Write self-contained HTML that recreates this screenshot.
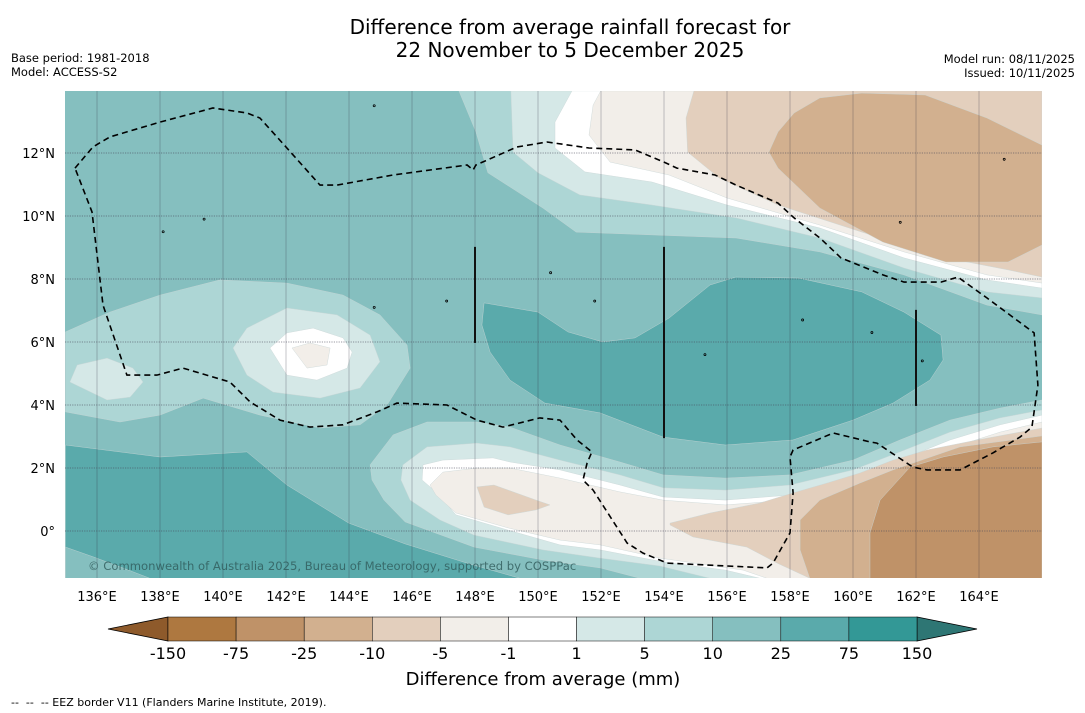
<!DOCTYPE html>
<html><head><meta charset="utf-8">
<style>
html,body{margin:0;padding:0;background:#fff;}
body{width:1085px;height:713px;overflow:hidden;font-family:"Liberation Sans","DejaVu Sans",sans-serif;}
svg{position:absolute;left:0;top:0;}
</style></head>
<body>
<svg id="chart" width="1085" height="713" viewBox="0 0 1085 713" font-family="DejaVu Sans, Liberation Sans, sans-serif">
  <text x="570" y="34" font-size="20" text-anchor="middle" fill="#000">Difference from average rainfall forecast for</text>
  <text x="570" y="57" font-size="20" text-anchor="middle" fill="#000">22 November to 5 December 2025</text>
  <text x="11" y="62" font-size="11.5" fill="#000">Base period: 1981-2018</text>
  <text x="11" y="76" font-size="11.5" fill="#000">Model: ACCESS-S2</text>
  <text x="1075" y="63" font-size="11.5" text-anchor="end" fill="#000">Model run: 08/11/2025</text>
  <text x="1075" y="77" font-size="11.5" text-anchor="end" fill="#000">Issued: 10/11/2025</text>
  <defs><clipPath id="mapclip"><rect x="65" y="91" width="977" height="487"/></clipPath></defs>
  <g id="map" clip-path="url(#mapclip)"></g>
  <g id="axes"></g>
  <g id="cbar"></g>
  <text x="543" y="685" font-size="18" text-anchor="middle" fill="#000">Difference from average (mm)</text>
  <text x="11" y="706" font-size="11" fill="#000" style="white-space:pre" xml:space="preserve">--  --  -- EEZ border V11 (Flanders Marine Institute, 2019).</text>
</svg>
<script>
// ---- data (lon/lat) ----
const lonTicks = [136,138,140,142,144,146,148,150,152,154,156,158,160,162,164];
const latTicks = [0,2,4,6,8,10,12];
const cbarLevels = ["-150","-75","-25","-10","-5","-1","1","5","10","25","75","150"];
const cbarColors = ["#ae7840","#bf9268","#d2b08f","#e3cfbd","#f2eee9","#ffffff","#d5e8e7","#add6d5","#85bfbf","#5aaaab","#339896"];
const baseLevel = "#85bfbf";

const bandSW = [[135,2.73],[138,2.35],[140.76,2.51],[142.03,1.46],[143.99,0.25],[145.78,-0.41],[147.94,-1.08],[149.43,-1.5],[135,-1.5]];
const cornerLL = [[135,-0.51],[135.9,-0.83],[137.0,-1.24],[137.68,-1.5],[135,-1.5]];
const blobCentral = [[148.29,7.24],[148.22,6.54],[148.48,5.68],[149.11,4.79],[150.22,4.06],[151.97,3.75],[153.97,2.98],[155.95,2.73],[158.09,2.89],[160.0,3.52],[161.27,4.06],[162.44,4.79],[162.86,5.43],[162.79,6.22],[161.62,6.95],[160.28,7.59],[158.28,8.03],[156.28,8.06],[155.46,7.81],[154.16,6.76],[153.08,6.13],[152.06,6.0],[150.95,6.32],[150.0,6.95]];
const westRing5 = [[135,6.32],[136.41,6.95],[138,7.49],[139.9,7.97],[142.03,7.87],[143.81,7.49],[144.98,6.86],[145.84,5.9],[145.94,5.17],[145.21,4.0],[144.35,3.37],[143.08,3.27],[141.17,3.68],[139.37,4.22],[138,3.68],[136.73,3.46],[135,3.78]];
const westRing1 = [[140.32,5.81],[140.76,6.44],[142.03,7.08],[143.62,6.86],[144.67,6.22],[144.98,5.37],[144.35,4.54],[143.08,4.22],[141.59,4.41],[140.76,4.95]];
const westSmall1 = [[135.14,4.73],[135.37,5.27],[136.32,5.49],[137.14,5.17],[137.46,4.73],[137.05,4.25],[136.32,4.16]];
const westWhite = [[141.49,5.81],[142.03,6.29],[142.86,6.44],[143.81,6.13],[144.1,5.68],[143.94,5.17],[142.98,4.79],[142.03,4.95]];
const westDry = [[142.19,5.81],[142.76,5.97],[143.4,5.81],[143.3,5.27],[142.67,5.17]];

const north5 = [[147.49,13.97],[148.03,12.67],[148.41,11.37],[150.16,10.25],[151.21,9.49],[153.62,9.4],[156.29,9.3],[158.95,8.86],[161.62,8.13],[164.25,7.17],[166,6.86],[166,13.97]];
const north1 = [[149.14,13.97],[149.21,12.03],[150.0,11.37],[151.33,10.67],[153.62,10.35],[156.29,9.94],[158.95,9.3],[161.62,8.35],[164.25,7.59],[166,7.4],[166,13.97]];
const northWhite = [[151.08,13.97],[150.54,12.98],[150.54,12.16],[151.49,11.4],[153.62,11.08],[156.0,10.35],[158.95,9.62],[161.62,8.67],[164.25,7.97],[166,7.71],[166,13.97]];
const northM1 = [[151.99,13.97],[151.75,13.52],[151.62,12.57],[152.29,11.71],[154.16,11.3],[156.0,10.57],[158.95,9.71],[161.62,8.86],[164.25,8.13],[166,7.87],[166,13.97]];
const northM5 = [[154.95,13.97],[154.7,13.11],[154.75,12.03],[155.75,11.21],[157.62,10.35],[160.28,9.49],[162.95,8.67],[164.92,8.29],[166,8.06],[166,13.97]];
const northM10 = [[158.13,13.27],[158.95,13.75],[160.28,13.9],[162.29,13.84],[164.25,13.11],[166,12.25],[166,9.08],[164.92,8.54],[162.95,8.54],[160.95,9.17],[158.95,10.25],[157.62,11.52],[157.33,12.03],[157.62,12.67]];

const south5 = [[144.73,1.62],[144.67,2.1],[145.4,3.05],[146.48,3.46],[148.06,3.46],[149.11,3.3],[150.7,2.73],[152.6,2.19],[153.97,1.78],[155.95,1.68],[158.0,1.78],[160.0,2.25],[161.49,2.89],[163.08,3.52],[164.67,3.9],[166,4.16],[166,-1.5],[153.24,-1.5],[151.97,-1.17],[150.16,-0.92],[147.97,-0.51],[145.78,0.29],[145.11,0.98]];
const south1 = [[145.65,1.62],[145.71,2.1],[146.48,2.67],[148.06,2.79],[149.11,2.67],[150.7,2.25],[152.6,1.78],[153.97,1.37],[155.95,1.3],[158.0,1.46],[160.0,1.94],[161.49,2.51],[163.08,3.14],[164.67,3.59],[166,3.84],[166,-1.5],[155.46,-1.5],[153.87,-1.11],[151.97,-0.86],[150.16,-0.6],[147.97,-0.13],[146.89,0.35],[145.94,0.98]];
const southWhite = [[146.32,1.62],[146.35,2.1],[146.98,2.25],[148.57,2.32],[149.11,2.19],[150.7,1.94],[152.6,1.46],[153.97,1.08],[155.95,0.98],[158.0,1.14],[160.0,1.62],[161.49,2.25],[163.08,2.89],[164.67,3.37],[166,3.68],[166,-1.5],[157.05,-1.5],[155.95,-1.24],[153.97,-0.98],[151.97,-0.6],[150.7,-0.44],[149.05,0.03],[147.4,0.51],[146.76,1.24]];
const southM1 = [[146.57,1.46],[146.98,1.87],[148.06,2.0],[149.11,2.0],[150.7,1.68],[152.6,1.24],[153.97,0.98],[155.95,0.83],[158.0,0.98],[160.0,1.4],[161.49,2.0],[163.08,2.63],[164.67,3.14],[166,3.46],[166,-1.5],[157.27,-1.5],[156.51,-1.24],[153.87,-0.86],[151.97,-0.44],[150.7,-0.29],[149.05,0.1],[147.4,0.57],[146.76,1.14]];
const southM5a = [[148.06,1.4],[148.6,1.46],[149.94,0.98],[150.38,0.83],[149.94,0.67],[149.05,0.51],[148.29,0.76]];
const southM5b = [[154.19,0.25],[155.46,0.57],[157.05,0.89],[158.1,1.21],[159.17,1.52],[160.22,1.84],[161.27,2.25],[162.35,2.57],[163.94,2.89],[166,3.27],[166,-1.5],[158.63,-1.5],[157.59,-1.02],[156.63,-0.51],[154.92,-0.19],[154.19,0.19]];
const southM10 = [[158.63,-1.5],[158.32,-0.6],[158.32,0.35],[158.95,0.98],[160.22,1.52],[161.27,1.94],[163.4,2.67],[166,3.02],[166,-1.5]];
const southM25 = [[160.54,-1.5],[160.54,-0.06],[160.86,0.98],[161.81,2.03],[162.86,2.35],[164.44,2.67],[166,2.83],[166,-1.5]];

const eezBorder = [[135.3,11.52],[135.87,12.19],[136.41,12.51],[138.0,12.98],[139.68,13.43],[140.76,13.27],[141.17,13.11],[142.03,12.16],[143.08,10.98],[143.62,10.98],[145.4,11.3],[147.75,11.62],[147.94,11.46],[148.03,11.62],[149.33,12.19],[150.29,12.35],[151.62,12.16],[153.08,12.1],[154.0,11.71],[154.41,11.52],[155.62,11.3],[156.29,10.98],[157.62,10.41],[158.13,9.94],[158.95,9.3],[159.62,8.67],[160.95,8.13],[161.62,7.9],[162.79,7.9],[163.33,8.06],[164.25,7.4],[165.75,6.29],[165.87,4.63],[165.68,3.3],[165.3,2.98],[164.44,2.48],[163.4,1.94],[162.35,1.94],[161.9,2.03],[160.76,2.79],[160.54,2.83],[159.37,3.11],[158.1,2.57],[158.0,2.35],[158.1,1.21],[158.0,-0.06],[157.46,-1.02],[157.27,-1.17],[154.1,-1.02],[153.33,-0.7],[152.83,-0.38],[151.75,1.3],[151.43,1.62],[151.56,2.16],[151.71,2.51],[151.24,2.89],[150.7,3.52],[150.06,3.59],[148.89,3.3],[148.06,3.52],[147.3,3.9],[147.11,4.0],[145.52,4.06],[144.89,3.78],[143.81,3.37],[142.76,3.3],[141.81,3.52],[140.86,4.1],[140.22,4.73],[138.73,5.17],[137.9,4.95],[136.95,4.95],[136.19,7.17],[135.84,10.13],[135.3,11.52]];

const barLons = [148,154,162];
const barLatTop = [9.02,9.02,7.02];
const barLatBottom = [5.97,2.95,3.97];

const islandLons = [144.8,138.1,139.4,150.4,151.8,155.3,158.4,160.6,162.2,164.8,161.5,147.1,144.8];
const islandLats = [13.5,9.5,9.9,8.2,7.3,5.6,6.7,6.3,5.4,11.8,9.8,7.3,7.1];

const fills = [
  [bandSW,"#5aaaab","band-25-75-southwest"],
  [cornerLL,"#85bfbf","corner-10-25"],
  [blobCentral,"#5aaaab","blob-25-75-central"],
  [westRing5,"#add6d5","west-5-10"],
  [westRing1,"#d5e8e7","west-1-5"],
  [westSmall1,"#d5e8e7","west-small-1-5"],
  [westWhite,"#ffffff","west-neutral"],
  [westDry,"#f2eee9","west-minus1-5"],
  [north5,"#add6d5","north-5-10"],
  [north1,"#d5e8e7","north-1-5"],
  [northWhite,"#ffffff","north-neutral"],
  [northM1,"#f2eee9","north-minus1-5"],
  [northM5,"#e3cfbd","north-minus5-10"],
  [northM10,"#d2b08f","north-minus10-25"],
  [south5,"#add6d5","south-5-10"],
  [south1,"#d5e8e7","south-1-5"],
  [southWhite,"#ffffff","south-neutral"],
  [southM1,"#f2eee9","south-minus1-5"],
  [southM5a,"#e3cfbd","south-minus5-10-small"],
  [southM5b,"#e3cfbd","south-minus5-10"],
  [southM10,"#d2b08f","south-minus10-25"],
  [southM25,"#bf9268","south-minus25-75"]
];

// ---- axis functions ----
const LON0=136, X0=97, PPD=31.5, Y0=531;
function xs(lon){return X0+(lon-LON0)*PPD;}
function ys(lat){return Y0-lat*PPD;}
const NS="http://www.w3.org/2000/svg";
function mk(tag,attrs,parent){const e=document.createElementNS(NS,tag);for(const k in attrs)e.setAttribute(k,attrs[k]);parent.appendChild(e);return e;}
function pts(arr){return arr.map(p=>xs(p[0]).toFixed(1)+","+ys(p[1]).toFixed(1)).join(" ");}

const map=document.getElementById("map");
const bg=mk("rect",{x:65,y:91,width:977,height:487,fill:baseLevel},map);


fills.forEach(f=>{
  const p=mk("polygon",{points:pts(f[0]),fill:f[1],stroke:"#c9d6d6","stroke-width":0.4},map);
  
  
});
lonTicks.forEach(l=>{
  const g=mk("line",{x1:xs(l),x2:xs(l),y1:91,y2:578,stroke:"#334",'stroke-opacity':0.4,'stroke-width':0.7},map);
  
  
});
latTicks.forEach(l=>{
  const g=mk("line",{x1:65,x2:1042,y1:ys(l),y2:ys(l),stroke:"#445",'stroke-opacity':0.55,'stroke-width':0.9,'stroke-dasharray':'1.2,1.2'},map);
  
  
});
islandLons.forEach((l,i)=>{
  const d=mk("circle",{cx:xs(l),cy:ys(islandLats[i]),r:1,fill:"none",stroke:"#000",'stroke-width':0.8},map);
  
  
});
const eez=mk("polyline",{points:pts(eezBorder),fill:"none",stroke:"#000",'stroke-width':1.6,'stroke-dasharray':'6,4'},map);


barLons.forEach((l,i)=>{
  const b=mk("line",{x1:xs(l),x2:xs(l),y1:ys(barLatTop[i]),y2:ys(barLatBottom[i]),stroke:"#111",'stroke-width':2},map);
  
  
});
const cp=mk("text",{x:88,y:570,'font-size':11.6,fill:"#2f5a5a",'fill-opacity':0.8},map);
cp.textContent="© Commonwealth of Australia 2025, Bureau of Meteorology, supported by COSPPac";



const axes=document.getElementById("axes");
lonTicks.forEach(l=>{
  const t=mk("text",{x:xs(l),y:601,'font-size':13,'text-anchor':'middle',fill:"#000"},axes);
  t.textContent=l+"°E";
  
  
});
latTicks.forEach(l=>{
  const t=mk("text",{x:55,y:ys(l)+5,'font-size':13,'text-anchor':'end',fill:"#000"},axes);
  t.textContent=l===0?"0°":l+"°N";
  
  
});

const cb=document.getElementById("cbar");
const CBX0=168, CBX1=917, CBY=617, CBH=24;
const bw=(CBX1-CBX0)/cbarColors.length;
const lt=mk("polygon",{points:`108,${CBY+CBH/2} ${CBX0},${CBY} ${CBX0},${CBY+CBH}`,fill:"#8e5a2b",stroke:"#000",'stroke-width':0.8},cb);


const rt=mk("polygon",{points:`977,${CBY+CBH/2} ${CBX1},${CBY} ${CBX1},${CBY+CBH}`,fill:"#2e7674",stroke:"#000",'stroke-width':0.8},cb);


cbarColors.forEach((c,i)=>{
  const r=mk("rect",{x:CBX0+i*bw,y:CBY,width:bw,height:CBH,fill:c,stroke:"#000",'stroke-width':0.5},cb);
  
  
});
cbarLevels.forEach((s,i)=>{
  const t=mk("text",{x:CBX0+i*bw,y:659,'font-size':16,'text-anchor':'middle',fill:"#000"},cb);
  t.textContent=s;
  
  
});
</script>
</body></html>
